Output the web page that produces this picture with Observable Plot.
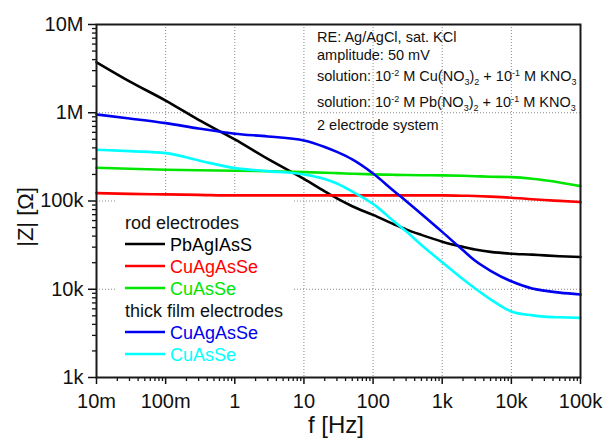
<!DOCTYPE html>
<html>
<head>
<meta charset="utf-8">
<script src="https://cdn.jsdelivr.net/npm/d3@7"></script>
<script src="https://cdn.jsdelivr.net/npm/@observablehq/plot@0.6"></script>
<style>
  html, body { margin: 0; padding: 0; background: #fff; }
  #chart { width: 605px; height: 438px; overflow: hidden; }
</style>
</head>
<body>
<div id="chart"></div>
<script>
// ---- data ----
const freqs = [0.01, 0.03, 0.1, 0.3, 1, 3, 10, 20, 30, 50, 100, 200, 300, 500,
               1000, 2000, 3000, 5000, 10000, 20000, 30000, 50000, 100000];
const rodPbAgIAsS   = [3.741e6, 2.27e6, 1.374e6, 8.29e5, 4.985e5, 3.0e5, 1.78e5, 1.284e5, 1.070e5, 8.73e4, 6.96e4, 5.46e4,
                       4.77e4, 4.13e4, 3.46e4, 3.02e4, 2.82e4, 2.65e4, 2.53e4, 2.47e4, 2.42e4, 2.37e4, 2.32e4];
const rodCuAgAsSe   = [1.229e5, 1.203e5, 1.188e5, 1.173e5, 1.157e5, 1.157e5, 1.157e5, 1.157e5, 1.157e5, 1.157e5, 1.157e5, 1.157e5,
                       1.157e5, 1.157e5, 1.157e5, 1.148e5, 1.139e5, 1.121e5, 1.090e5, 1.048e5, 1.026e5, 1.003e5, 9.72e4];
const rodCuAsSe     = [2.384e5, 2.322e5, 2.262e5, 2.233e5, 2.204e5, 2.176e5, 2.125e5, 2.092e5, 2.070e5, 2.038e5, 2.001e5, 1.980e5,
                       1.970e5, 1.960e5, 1.950e5, 1.929e5, 1.909e5, 1.884e5, 1.865e5, 1.789e5, 1.720e5, 1.624e5, 1.475e5];
const thickCuAgAsSe = [9.57e5, 8.62e5, 7.63e5, 6.64e5, 5.78e5, 5.39e5, 4.86e5, 4.10e5, 3.60e5, 2.96e5, 2.05e5, 1.30e5,
                       1.003e5, 7.14e4, 4.47e4, 2.76e4, 2.10e4, 1.62e4, 1.23e4, 1.02e4, 9.64e3, 9.15e3, 8.71e3];
const thickCuAsSe   = [3.81e5, 3.67e5, 3.49e5, 2.88e5, 2.36e5, 2.18e5, 2.0e5, 1.78e5, 1.58e5, 1.28e5, 9.27e4, 5.88e4,
                       4.53e4, 3.18e4, 2.02e4, 1.30e4, 1.02e4, 7.69e3, 5.60e3, 5.06e3, 4.89e3, 4.81e3, 4.74e3];

const seriesNames  = ["PbAgIAsS", "CuAgAsSe", "CuAsSe", "CuAgAsSe", "CuAsSe"];
const seriesGroups = ["rod", "rod", "rod", "thick", "thick"];
const seriesValues = [rodPbAgIAsS, rodCuAgAsSe, rodCuAsSe, thickCuAgAsSe, thickCuAsSe];
const seriesColors = ["#000000", "#ff0000", "#00e600", "#0000f0", "#00ffff"];
const groupTitles  = {rod: "rod electrodes", thick: "thick film electrodes"};

const xTicks = [0.01, 0.1, 1, 10, 100, 1000, 10000, 100000];
const xTickLabels = ["10m", "100m", "1", "10", "100", "1k", "10k", "100k"];
const yTicks = [1e3, 1e4, 1e5, 1e6, 1e7];
const yTickLabels = ["1k", "10k", "100k", "1M", "10M"];

// ---- derived ----
const rows = seriesValues.flatMap((vals, s) =>
  freqs.map((f, i) => ({f, z: vals[i], key: seriesGroups[s] + ":" + seriesNames[s], s})));
const minor = (majors) => majors.slice(0, -1).flatMap(m => d3.range(2, 10).map(k => k * m));
const xMinor = minor(xTicks);
const yMinor = minor(yTicks);
const xLab = new Map(xTicks.map((v, i) => [v, xTickLabels[i]]));
const yLab = new Map(yTicks.map((v, i) => [v, yTickLabels[i]]));

const FONT = "'Liberation Sans', Arial, Helvetica, sans-serif";
const INK = "#111";

const chart = Plot.plot({
  width: 605, height: 438,
  marginLeft: 96, marginRight: 25, marginTop: 24, marginBottom: 61,
  style: {fontFamily: FONT, background: "#fff", color: INK, overflow: "visible"},
  x: {type: "log", domain: [0.01, 1e5]},
  y: {type: "log", domain: [1e3, 1e7]},
  marks: [
    Plot.gridX(xTicks.slice(1, -1), {stroke: "#8a8a8a", strokeOpacity: 1, strokeWidth: 1, strokeDasharray: "1,2"}),
    Plot.gridY(yTicks.slice(1, -1), {stroke: "#8a8a8a", strokeOpacity: 1, strokeWidth: 1, strokeDasharray: "1,2"}),
    Plot.axisX(xMinor, {tickSize: 4, tickFormat: () => "", label: null, stroke: INK, strokeWidth: 1.3}),
    Plot.axisY(yMinor, {tickSize: 4, tickFormat: () => "", label: null, stroke: INK, strokeWidth: 1.3}),
    Plot.axisX(xTicks, {tickSize: 7, tickPadding: 9, tickFormat: d => xLab.get(d), fontSize: 20, label: null, stroke: INK, strokeWidth: 1.5, fill: INK}),
    Plot.axisY(yTicks, {tickSize: 8, tickPadding: 5, tickFormat: d => yLab.get(d), fontSize: 20, label: null, stroke: INK, strokeWidth: 1.5, fill: INK}),
    Plot.line(rows, {x: "f", y: "z", z: "key", stroke: d => seriesColors[d.s], strokeWidth: 2.6, curve: "monotone-x"}),
    Plot.frame({stroke: "#1a1a1a", strokeWidth: 2})
  ]
});
document.getElementById("chart").appendChild(chart);
// remove empty minor-tick labels
d3.select(chart).selectAll("text").filter(function () { return this.textContent === ""; }).remove();

// ---- titles, annotation and legend ----
const svg = d3.select(chart);
svg.append("text").attr("x", 336).attr("y", 433).attr("text-anchor", "middle")
  .attr("font-size", 24).attr("fill", INK).attr("font-family", FONT).text("f [Hz]");
svg.append("text").attr("transform", "translate(33,217) rotate(-90)").attr("text-anchor", "middle")
  .attr("font-size", 22).attr("fill", INK).attr("font-family", FONT).text("|Z| [Ω]");

// annotation block
const notes = [
  [["RE: Ag/AgCl, sat. KCl"]],
  [["amplitude: 50 mV"]],
  [["solution: 10"], ["-2", "sup"], [" M Cu(NO"], ["3", "sub"], [")"], ["2", "sub"], [" + 10"], ["-1", "sup"], [" M KNO"], ["3", "sub"]],
  [["solution: 10"], ["-2", "sup"], [" M Pb(NO"], ["3", "sub"], [")"], ["2", "sub"], [" + 10"], ["-1", "sup"], [" M KNO"], ["3", "sub"]],
  [["2 electrode system"]]
];
const noteBase = [42, 60, 81, 107, 130];
const shift = {sup: -5, sub: 4};
notes.forEach((parts, li) => {
  const t = svg.append("text").attr("x", 317).attr("y", noteBase[li]).attr("text-anchor", "start")
    .attr("font-size", 14.5).attr("fill", INK).attr("font-family", FONT);
  let offset = 0;
  parts.forEach(([str, kind]) => {
    const target = kind ? shift[kind] : 0;
    const sp = t.append("tspan").attr("dy", target - offset).text(str);
    if (kind) sp.attr("font-size", 9);
    offset = target;
  });
});

// legend
const leg = svg.append("g").attr("text-anchor", "start");
leg.append("rect").attr("x", 115).attr("y", 198).attr("width", 178).attr("height", 178).attr("fill", "#fff");
let yRow = 222;
let lastGroup = null;
seriesNames.forEach((name, s) => {
  if (seriesGroups[s] !== lastGroup) {
    lastGroup = seriesGroups[s];
    leg.append("text").attr("x", 125).attr("y", yRow + 6.5).attr("font-size", 18)
      .attr("fill", INK).attr("font-family", FONT).text(groupTitles[lastGroup]);
    yRow += 22;
  }
  leg.append("line").attr("x1", 125).attr("x2", 165).attr("y1", yRow).attr("y2", yRow)
    .attr("stroke", seriesColors[s]).attr("stroke-width", 2.6);
  leg.append("text").attr("x", 170).attr("y", yRow + 6.5).attr("font-size", 18)
    .attr("fill", seriesColors[s]).attr("font-family", FONT).text(name);
  yRow += 22;
});
</script>
</body>
</html>
